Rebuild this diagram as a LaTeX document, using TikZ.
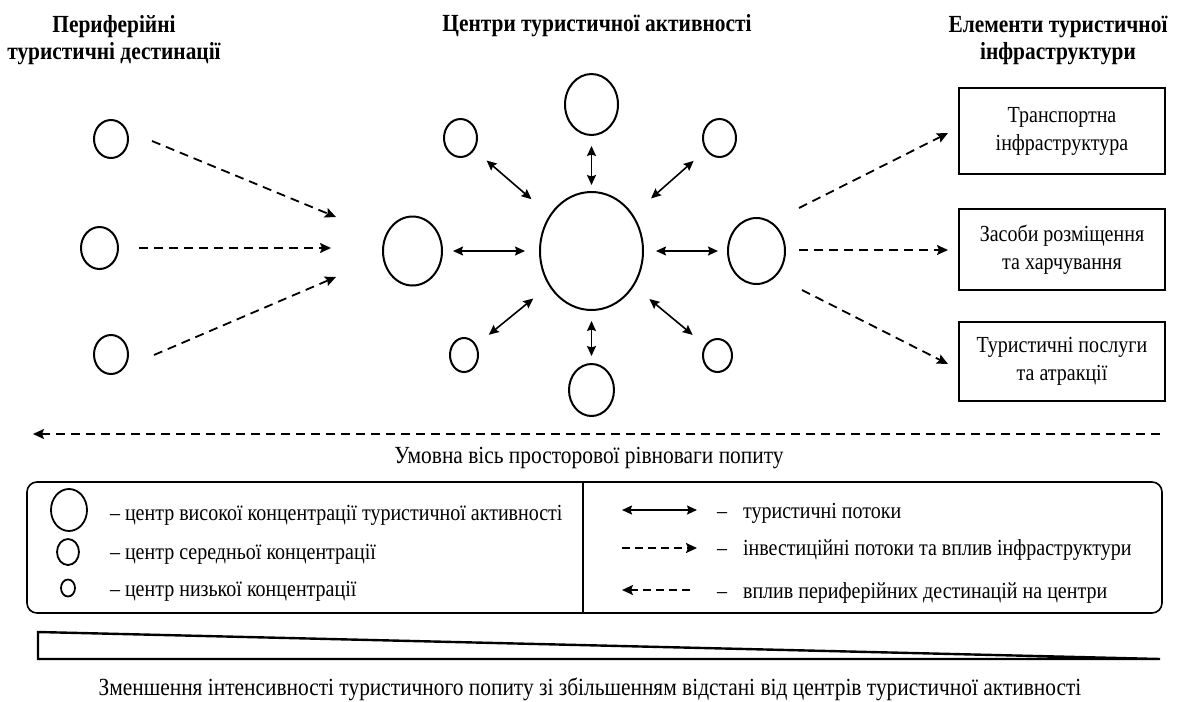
\documentclass[tikz,border=0pt]{standalone}
\usepackage{fontspec}
\setmainfont{Liberation Serif}[FakeStretch=0.87]
\usetikzlibrary{arrows.meta,shapes.geometric}

\begin{document}
\begin{tikzpicture}[x=1pt,y=-1pt,
  every node/.style={inner sep=0pt, outer sep=0pt, font=\fontsize{23}{28}\selectfont},
  heading/.style={font=\bfseries\fontsize{24.6}{27}\selectfont, align=center, anchor=base},
  caption/.style={font=\fontsize{24.6}{28}\selectfont, anchor=base},
  hub/.style={draw, ellipse, line width=2pt},
  infobox/.style={draw, line width=1.8pt, minimum width=206pt, align=center},
  flow/.style={line width=1.6pt, {Stealth[length=10pt,width=9pt,inset=1.5pt]}-{Stealth[length=10pt,width=9pt,inset=1.5pt]}},
  invest/.style={line width=1.8pt, dash pattern=on 9pt off 6pt, -{Stealth[length=11pt,width=10pt,inset=2pt]}},
  legtext/.style={anchor=base west},
]
\useasboundingbox (0,0) rectangle (1179,702);

% column headings (base anchor sits on the last line)
\node[heading] (hL) at (114,59) {Периферійні\\туристичні дестинації};
\node[heading] (hC) at (597,31) {Центри туристичної активності};
\node[heading] (hR) at (1058,59) {Елементи туристичної\\інфраструктури};

% peripheral destinations
\node[hub, minimum width=34pt, minimum height=38pt] (p1) at (111,139) {};
\node[hub, minimum width=37pt, minimum height=42pt] (p2) at (99.5,248) {};
\node[hub, minimum width=34pt, minimum height=39pt] (p3) at (111,354.5) {};

\coordinate (p1s) at (152,141);  \coordinate (p1e) at (336,217);
\coordinate (p2s) at (139,248);  \coordinate (p2e) at (331,248);
\coordinate (p3s) at (154,355);  \coordinate (p3e) at (336,277);
\draw[invest] (p1s) -- (p1e);
\draw[invest] (p2s) -- (p2e);
\draw[invest] (p3s) -- (p3e);

% centres of tourist activity
\node[hub, minimum width=103pt, minimum height=118pt] (c) at (591.5,251) {};
\node[hub, minimum width=53pt, minimum height=61pt] (t) at (591.5,104.5) {};
\node[hub, minimum width=45pt, minimum height=52pt] (b) at (591.5,390) {};
\node[hub, minimum width=59pt, minimum height=69pt] (l) at (412.5,251) {};
\node[hub, minimum width=57pt, minimum height=66pt] (r) at (756.5,251) {};
\node[hub, minimum width=33pt, minimum height=38pt] (tl) at (460.5,138) {};
\node[hub, minimum width=33pt, minimum height=38pt] (tr) at (719.5,138) {};
\node[hub, minimum width=28pt, minimum height=34pt] (bl) at (464,355) {};
\node[hub, minimum width=29pt, minimum height=33pt] (br) at (717.5,355.5) {};

\draw[flow, shorten <=11pt, shorten >=7pt]  (t) -- (c);
\draw[flow, shorten <=8pt,  shorten >=11pt] (b) -- (c);
\draw[flow, shorten <=11pt, shorten >=15pt] (l) -- (c);
\draw[flow, shorten <=10pt, shorten >=13pt] (r) -- (c);
\draw[flow, shorten <=17pt, shorten >=25pt] (tl) -- (c);
\draw[flow, shorten <=17pt, shorten >=25pt] (tr) -- (c);
\draw[flow, shorten <=17pt, shorten >=21pt] (bl) -- (c);
\draw[flow, shorten <=17pt, shorten >=21pt] (br) -- (c);

% infrastructure elements
\node[infobox, minimum height=86pt] (i1) at (1062,131) {Транспортна\\інфраструктура};
\node[infobox, minimum height=81pt] (i2) at (1062,249.5) {Засоби розміщення\\та харчування};
\node[infobox, minimum height=79pt] (i3) at (1062,361.5) {Туристичні послуги\\та атракції};

\coordinate (r1s) at (799,208);  \coordinate (r1e) at (948,133);
\coordinate (r2s) at (799,250);  \coordinate (r2e) at (948,250);
\coordinate (r3s) at (802,290);  \coordinate (r3e) at (948,364);
\draw[invest] (r1s) -- (r1e);
\draw[invest] (r2s) -- (r2e);
\draw[invest] (r3s) -- (r3e);

% axis of spatial balance of demand
\coordinate (axL) at (33,434);
\coordinate (axR) at (1163,434);
\draw[invest, {Stealth[length=11pt,width=10pt,inset=2pt]}-] (axL) -- (axR);
\node[caption] (axlabel) at (589,463) {Умовна вісь просторової рівноваги попиту};

% legend
\draw[line width=1.6pt, rounded corners=10pt] (27,482) rectangle (1162,613);
\draw[line width=1.6pt] (583,482) -- (583,613);

\node[hub, line width=1.8pt, minimum width=36pt, minimum height=42pt] (kh) at (69,510) {};
\node[hub, line width=1.8pt, minimum width=22pt, minimum height=26pt] (km) at (68,552) {};
\node[hub, line width=1.8pt, minimum width=14pt, minimum height=17pt] (ks) at (68,588) {};
\node[legtext] (th) at (110,520) {– центр високої концентрації туристичної активності};
\node[legtext] (tm) at (110,559) {– центр середньої концентрації};
\node[legtext] (ts) at (110,596) {– центр низької концентрації};

\coordinate (k1a) at (622,510); \coordinate (k1b) at (697,510);
\coordinate (k2a) at (622,548); \coordinate (k2b) at (697,548);
\coordinate (k3a) at (622,590); \coordinate (k3b) at (690,590);
\draw[flow] (k1a) -- (k1b);
\draw[invest, dash pattern=on 8pt off 5pt] (k2a) -- (k2b);
\draw[invest, dash pattern=on 8pt off 5pt, -, {Stealth[length=11pt,width=10pt,inset=2pt]}-] (k3a) -- (k3b);
\node[legtext] (tf) at (717,518) {–\hspace{0.7em}туристичні потоки};
\node[legtext] (ti) at (717,555) {–\hspace{0.7em}інвестиційні потоки та вплив інфраструктури};
\node[legtext] (tp) at (717,598) {–\hspace{0.7em}вплив периферійних дестинацій на центри};

% decreasing demand intensity
\coordinate (wA) at (38,632);
\coordinate (wB) at (1160,659);
\coordinate (wC) at (38,659);
\draw[line width=2.4pt, line join=miter] (wA) -- (wB) -- (wC) -- cycle;
\node[caption] (wlabel) at (590,695) {Зменшення інтенсивності туристичного попиту зі збільшенням відстані від центрів туристичної активності};
\end{tikzpicture}
\end{document}
